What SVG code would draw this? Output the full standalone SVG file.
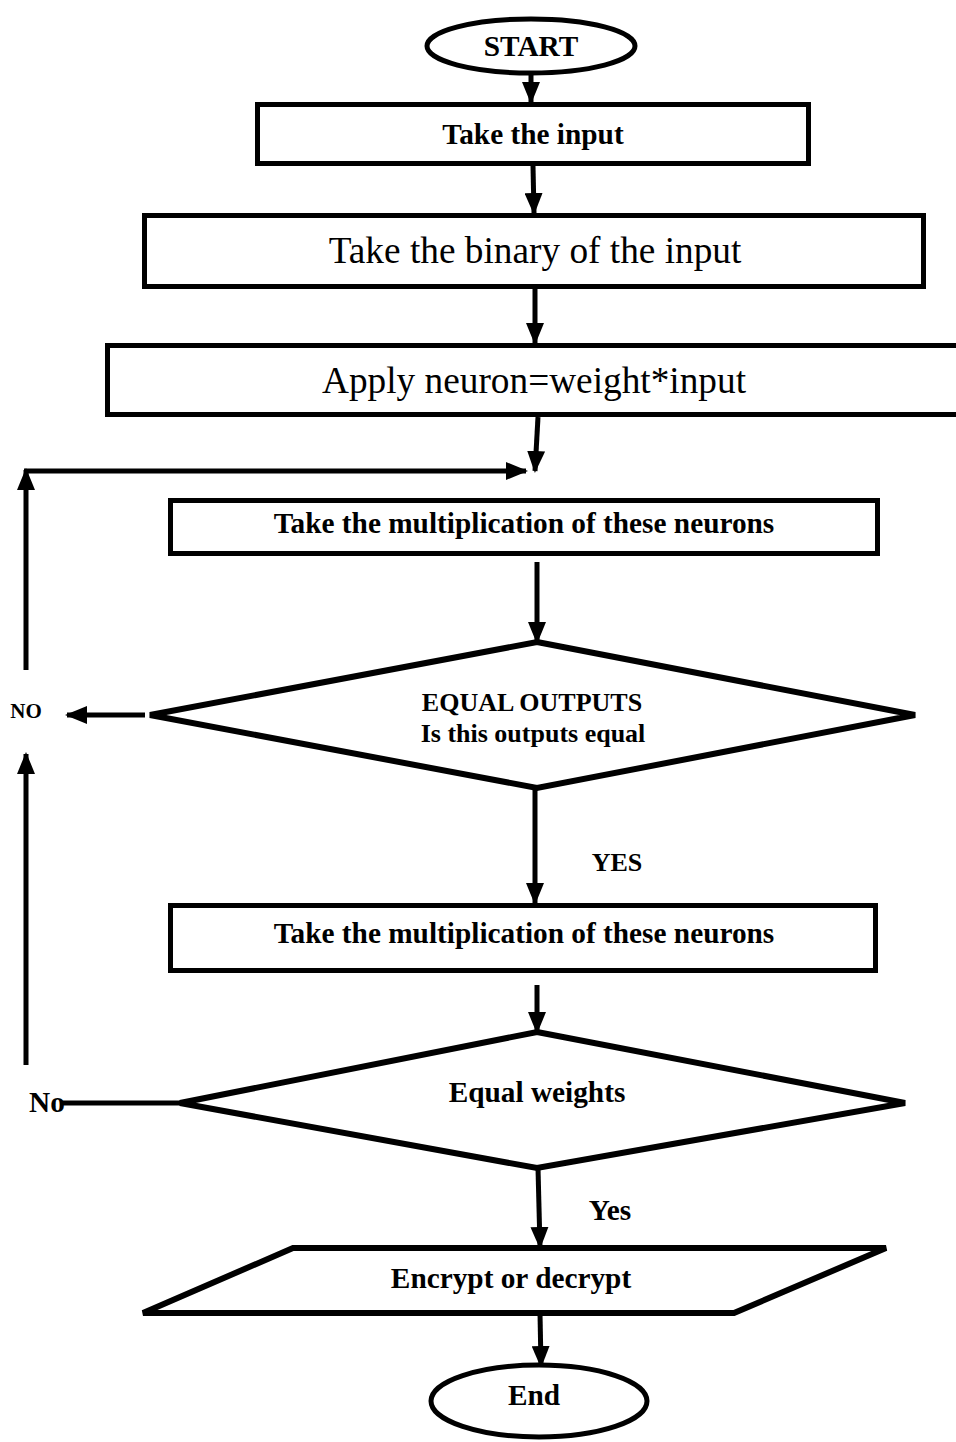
<svg xmlns="http://www.w3.org/2000/svg" width="956" height="1442" viewBox="0 0 956 1442">
<style>
.s{fill:#fff;stroke:#000;stroke-width:5}
.d{fill:#fff;stroke:#000;stroke-width:6;stroke-linejoin:miter}
.c{fill:none;stroke:#000;stroke-width:5}
.b{font-family:"Liberation Serif","Times New Roman",serif;font-weight:bold;fill:#000;text-anchor:middle;font-size:29.3px}
.r{font-family:"Liberation Serif","Times New Roman",serif;fill:#000;text-anchor:middle;font-size:37.3px}
</style>
<defs>
<marker id="ah" markerUnits="userSpaceOnUse" markerWidth="22" markerHeight="18" refX="20" refY="9" orient="auto">
<path d="M0,0 L22,9 L0,18 Z" fill="#000"/>
</marker>
</defs>
<rect width="956" height="1442" fill="#fff"/>
<g id="connectors">
<line class="c" x1="531" y1="74" x2="531" y2="102" marker-end="url(#ah)"/>
<line class="c" x1="533" y1="166" x2="534" y2="213" marker-end="url(#ah)"/>
<line class="c" x1="535" y1="289" x2="535" y2="343" marker-end="url(#ah)"/>
<line class="c" x1="538" y1="417" x2="535" y2="471" marker-end="url(#ah)"/>
<line class="c" x1="26" y1="670" x2="26" y2="470" marker-end="url(#ah)"/>
<line class="c" x1="24" y1="471" x2="526" y2="471" marker-end="url(#ah)"/>
<line class="c" x1="537" y1="562" x2="537" y2="642" marker-end="url(#ah)"/>
<line class="c" x1="145" y1="715" x2="67" y2="715" marker-end="url(#ah)"/>
<line class="c" x1="535" y1="788" x2="535" y2="903" marker-end="url(#ah)"/>
<line class="c" x1="537" y1="985" x2="537" y2="1032" marker-end="url(#ah)"/>
<line class="c" x1="26" y1="1065" x2="26" y2="754" marker-end="url(#ah)"/>
<line class="c" x1="60" y1="1103" x2="182" y2="1103"/>
<line class="c" x1="538" y1="1168" x2="540" y2="1247" marker-end="url(#ah)"/>
<line class="c" x1="540" y1="1313" x2="541" y2="1366" marker-end="url(#ah)"/>
</g>
<g id="start">
<ellipse class="s" cx="531" cy="46" rx="104" ry="27"/>
<text class="b" x="531" y="56">START</text>
</g>
<g id="take-input">
<rect class="s" x="257.5" y="104.5" width="551" height="59"/>
<text class="b" x="533" y="144">Take the input</text>
</g>
<g id="take-binary">
<rect class="s" x="144.5" y="215.5" width="779" height="71"/>
<text class="r" x="535" y="263">Take the binary of the input</text>
</g>
<g id="apply-neuron">
<rect class="s" x="107.5" y="345.5" width="860" height="69"/>
<text class="r" x="534" y="393">Apply neuron=weight*input</text>
</g>
<g id="multiplication-1">
<rect class="s" x="170.5" y="500.5" width="707" height="53"/>
<text class="b" x="524" y="533">Take the multiplication of these neurons</text>
</g>
<g id="equal-outputs">
<polygon class="d" points="537,642 915,715 537,788 150,715"/>
<text class="b" x="532" y="711" style="font-size:26px">EQUAL OUTPUTS</text>
<text class="b" x="533" y="742" style="font-size:26px">Is this outputs equal</text>
</g>
<g id="no-label-1">
<text class="b" x="26" y="718" style="font-size:21px">NO</text>
</g>
<g id="yes-label-1">
<text class="b" x="617" y="871" style="font-size:26px">YES</text>
</g>
<g id="multiplication-2">
<rect class="s" x="170.5" y="905.5" width="705" height="65"/>
<text class="b" x="524" y="943">Take the multiplication of these neurons</text>
</g>
<g id="equal-weights">
<polygon class="d" points="537,1032 905,1103 537,1168 180,1103"/>
<text class="b" x="537" y="1102">Equal weights</text>
</g>
<g id="no-label-2">
<text class="b" x="47" y="1112">No</text>
</g>
<g id="yes-label-2">
<text class="b" x="610" y="1220">Yes</text>
</g>
<g id="encrypt">
<polygon class="d" points="293,1248 886,1248 734,1313 143,1313"/>
<text class="b" x="511" y="1288">Encrypt or decrypt</text>
</g>
<g id="end">
<ellipse class="s" cx="539" cy="1401" rx="108" ry="36"/>
<text class="b" x="534" y="1405">End</text>
</g>
</svg>
